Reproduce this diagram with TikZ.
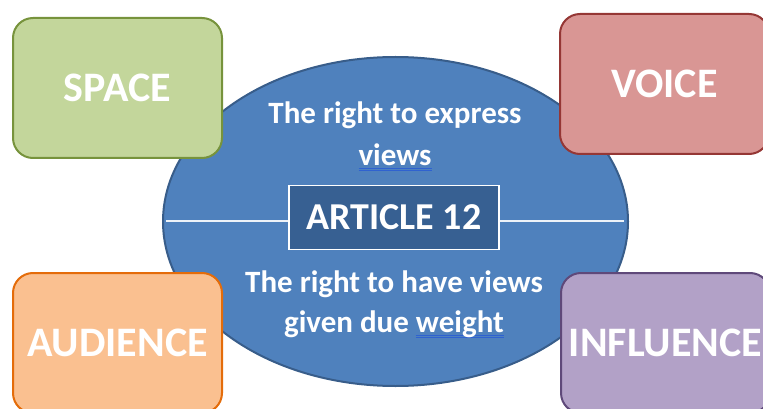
\documentclass[tikz,border=0pt]{standalone}
\usepackage{fontspec}
\setmainfont{Carlito}
\usepackage{xcolor}
\usetikzlibrary{shapes.geometric,positioning}

\definecolor{spacefill}{HTML}{C3D69B}
\definecolor{spaceline}{HTML}{77933C}
\definecolor{voicefill}{HTML}{D99694}
\definecolor{voiceline}{HTML}{953735}
\definecolor{audfill}{HTML}{FAC090}
\definecolor{audline}{HTML}{E46C0A}
\definecolor{inflfill}{HTML}{B2A1C7}
\definecolor{inflline}{HTML}{5F497A}
\definecolor{ovalfill}{HTML}{4F81BD}
\definecolor{ovalline}{HTML}{385D8A}
\definecolor{artfill}{HTML}{376092}
\definecolor{spellblue}{HTML}{2F62D0}

\newsavebox\spellbox
\newcommand\spellmark[1]{\sbox\spellbox{#1}%
  \rlap{\textcolor{spellblue}{\rule[-3.5pt]{\wd\spellbox}{0.9pt}}}%
  \rlap{\textcolor{spellblue}{\rule[-5.6pt]{\wd\spellbox}{0.9pt}}}%
  \usebox\spellbox}

\begin{document}
\begin{tikzpicture}[x=1pt,y=-1pt,
  cornerbox/.style={draw,line width=2pt,rounded corners=20pt,minimum width=209pt,
    minimum height=140pt,text=white,font=\fontsize{42}{50}\selectfont\bfseries},
  ovaltext/.style={text=white,align=center,anchor=base,inner sep=0pt,font=\bfseries},
  midline/.style={draw=white!90!ovalfill,line width=1.5pt}]
\clip (0,0) rectangle (763,409);

\node[ellipse,draw=ovalline,fill=ovalfill,line width=2pt,minimum width=465pt,minimum height=329pt] (oval) at (395.5,221.5) {};

\node[ovaltext,font=\fontsize{31}{42}\selectfont\bfseries] (express) at (395,165) {The right to express\\\spellmark{views}};
\node[ovaltext,font=\fontsize{31}{40}\selectfont\bfseries] (weight) at (394,332) {The right to have views\\given due \spellmark{weight}};

\node[draw=white,fill=artfill,line width=1.5pt,minimum width=210pt,minimum height=64pt,text=white,
  font=\fontsize{38}{45}\selectfont\bfseries] (art) at (394,217.5) {ARTICLE 12};
\coordinate (lend) at (166,221);
\coordinate (rend) at (624,221);
\draw[midline] (lend) -- (lend -| art.west);
\draw[midline] (art.east |- rend) -- (rend);

\node[cornerbox,fill=spacefill,draw=spaceline] (space) at (117.5,88) {SPACE};
\node[cornerbox,fill=voicefill,draw=voiceline] (voice) at (664.5,84) {VOICE};
\node[cornerbox,fill=audfill,draw=audline] (audience) at (117.5,343) {AUDIENCE};
\node[cornerbox,fill=inflfill,draw=inflline] (influence) at (665.5,343) {INFLUENCE};
\end{tikzpicture}
\end{document}
